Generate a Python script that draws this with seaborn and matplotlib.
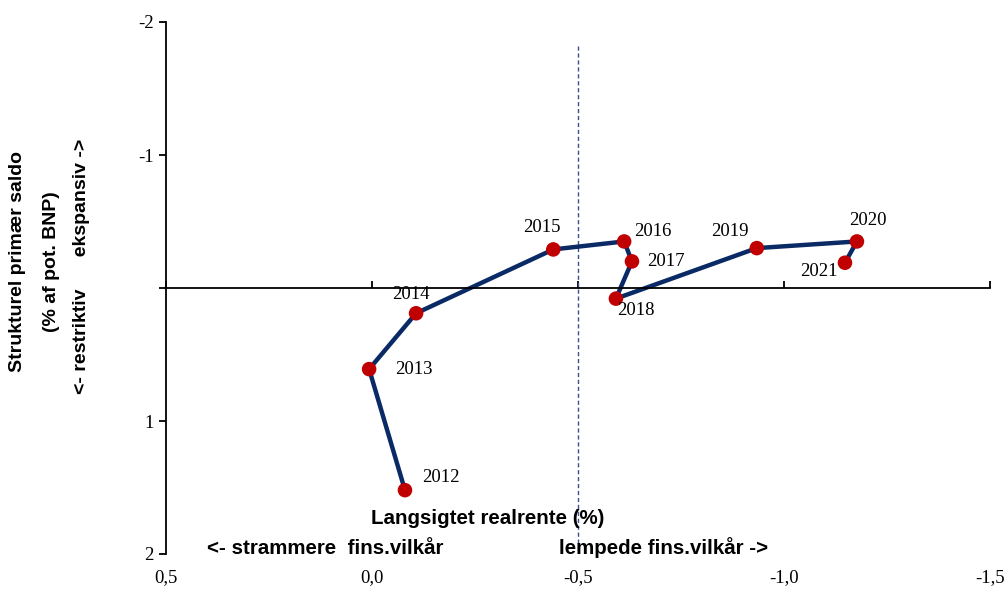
import matplotlib
matplotlib.use("Agg")
import matplotlib.pyplot as plt
import seaborn as sns
import pandas as pd

# ---- data ----
years = ["2012", "2013", "2014", "2015", "2016", "2017", "2018", "2019", "2020", "2021"]
realrente = [-0.08, 0.007, -0.107, -0.44, -0.612, -0.631, -0.592, -0.934, -1.177, -1.148]
saldo = [1.52, 0.61, 0.19, -0.29, -0.35, -0.20, 0.08, -0.30, -0.35, -0.19]
x_ticks = [0.5, 0.0, -0.5, -1.0, -1.5]
x_ticklabels = ["0,5", "0,0", "-0,5", "-1,0", "-1,5"]
y_ticks = [-2, -1, 0, 1, 2]
y_ticklabels = ["-2", "-1", "", "1", "2"]
ref_x = [-0.5, -0.5]
ref_y = [-1.82, 2.0]
# label offsets in pixels (style)
label_offsets = [(36, 13), (45, 0), (-5, 19), (-11, 22), (29, 10), (34, 0),
                 (20, -12), (-27, 17), (11, 21), (-26, -9)]

df = pd.DataFrame({"year": years, "x": realrente, "y": saldo})

sns.set_theme(style="white")
plt.rcParams.update({"text.color": "black", "xtick.color": "black", "ytick.color": "black",
                     "axes.labelcolor": "black"})
serif = "Liberation Serif"
sans = "Liberation Sans"

fig = plt.figure(figsize=(10.08, 5.89), dpi=100)
ax = fig.add_axes([166/1008, 1-554/589, (990-166)/1008, (554-22)/589])

navy = "#0a2a66"
red = "#c00000"

# dashed reference line
ax.plot(ref_x, ref_y, linestyle=(0, (3, 2)), color="#3d4f8f", linewidth=1.0, zorder=1)

sns.lineplot(data=df, x="x", y="y", sort=False, ax=ax, color=navy, linewidth=3.2,
             estimator=None, zorder=2)
sns.scatterplot(data=df, x="x", y="y", ax=ax, color=red, s=110, edgecolor="none", zorder=3)

for (yr, xv, yv), (dx, dy) in zip(zip(years, realrente, saldo), label_offsets):
    ax.annotate(yr, (xv, yv), xytext=(dx, dy), textcoords="offset pixels",
                ha="center", va="center", fontsize=13.5, family=serif, color="black")

ax.set_xlim(0.5, -1.5)
ax.set_ylim(2, -2)
ax.set_xlabel("")
ax.set_ylabel("")

for s in ["top", "right"]:
    ax.spines[s].set_visible(False)
ax.spines["left"].set_color("black")
ax.spines["left"].set_linewidth(1.3)
ax.spines["bottom"].set_position(("data", 0))
ax.spines["bottom"].set_color("black")
ax.spines["bottom"].set_linewidth(1.3)

ax.set_xticks(x_ticks)
ax.tick_params(axis="x", direction="in", length=5, width=1.3, color="black",
               labelbottom=False, bottom=True)
ax.set_yticks(y_ticks)
ax.set_yticklabels(y_ticklabels, fontsize=13.5, family=serif, color="black")
ax.tick_params(axis="y", direction="out", length=5, width=1.3, color="black",
               left=True, pad=4)

sec = ax.secondary_xaxis("bottom")
sec.set_xticks(x_ticks)
sec.set_xticklabels(x_ticklabels, fontsize=13.5, family=serif, color="black")
sec.tick_params(axis="x", length=0, pad=11)
sec.spines["bottom"].set_visible(False)

# y-axis title (three lines)
ytitle_fs = 14
fig.text(18/1008, 1-262/589, "Strukturel primær saldo", rotation=90, ha="center", va="center",
         fontsize=ytitle_fs, fontweight="bold", family=sans, color="black")
fig.text(51/1008, 1-262/589, "(% af pot. BNP)", rotation=90, ha="center", va="center",
         fontsize=ytitle_fs, fontweight="bold", family=sans, color="black")
fig.text(82/1008, 1-266/589, "<- restriktiv      ekspansiv ->", rotation=90, ha="center", va="center",
         fontsize=ytitle_fs, fontweight="bold", family=sans, color="black")

# x-axis titles
xtitle_fs = 14.8
fig.text(488/1008, 1-518/589, "Langsigtet realrente (%)", ha="center", va="center",
         fontsize=xtitle_fs, fontweight="bold", family=sans, color="black")
fig.text(325/1008, 1-548/589, "<- strammere  fins.vilkår", ha="center", va="center",
         fontsize=xtitle_fs, fontweight="bold", family=sans, color="black")
fig.text(664/1008, 1-548/589, "lempede fins.vilkår ->", ha="center", va="center",
         fontsize=xtitle_fs, fontweight="bold", family=sans, color="black")

fig.savefig("out.png", dpi=100)
